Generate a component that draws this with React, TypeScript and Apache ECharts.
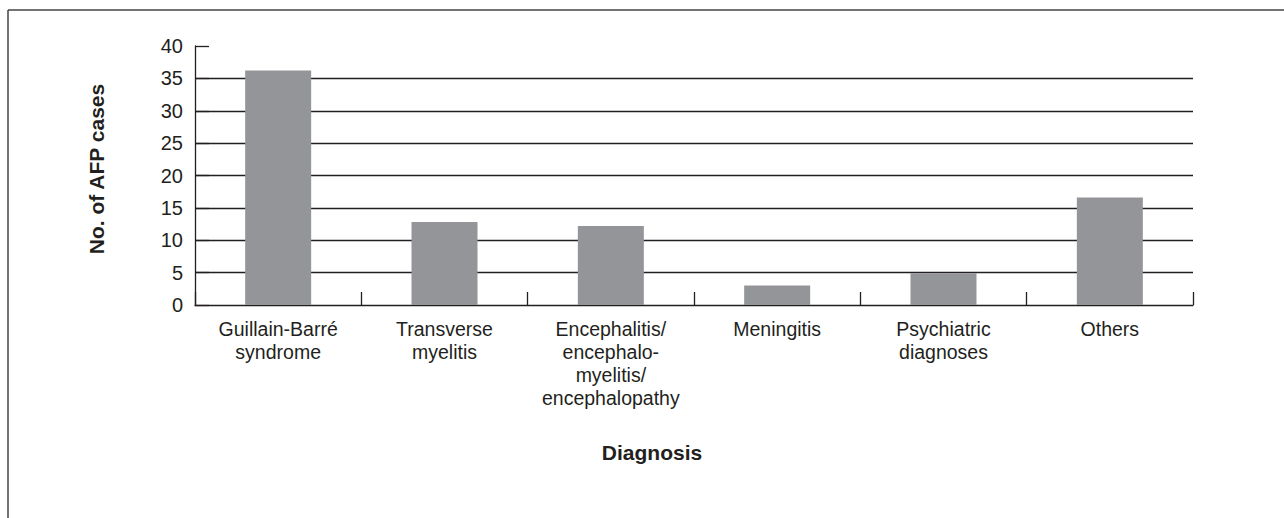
import React, { useEffect, useRef } from "react";
import * as echarts from "echarts";

const categories = [
  "Guillain-Barré\nsyndrome",
  "Transverse\nmyelitis",
  "Encephalitis/\nencephalo-\nmyelitis/\nencephalopathy",
  "Meningitis",
  "Psychiatric\ndiagnoses",
  "Others",
];
const afpCases = [36.2, 12.8, 12.2, 3.0, 4.9, 16.6];
const yAxisTitle = "No. of AFP cases";
const xAxisTitle = "Diagnosis";

const FONT = "'Liberation Sans', Arial, Helvetica, sans-serif";
const INK = "#231f20";

export default function App() {
  const ref = useRef<HTMLDivElement>(null);
  useEffect(() => {
    if (!ref.current) return;
    const chart = echarts.init(ref.current, null, { renderer: "svg" });
    chart.setOption({
      animation: false,
      backgroundColor: "#ffffff",
      grid: { left: 195, right: 91, top: 46, bottom: 213, containLabel: false },
      xAxis: {
        type: "category",
        data: categories,
        boundaryGap: true,
        axisLine: { show: true, lineStyle: { color: INK, width: 1.3 } },
        axisTick: {
          show: true,
          inside: true,
          length: 13,
          alignWithLabel: false,
          interval: 0,
          lineStyle: { color: INK, width: 1.3 },
        },
        axisLabel: {
          interval: 0,
          margin: 12,
          color: INK,
          fontFamily: FONT,
          fontSize: 19.5,
          lineHeight: 23,
        },
        splitLine: { show: false },
      },
      yAxis: {
        type: "value",
        min: 0,
        max: 40,
        interval: 5,
        axisLine: { show: true, lineStyle: { color: INK, width: 1.3 } },
        axisTick: {
          show: true,
          inside: true,
          length: 14,
          lineStyle: { color: INK, width: 1.3 },
        },
        axisLabel: {
          margin: 12,
          color: INK,
          fontFamily: FONT,
          fontSize: 20,
        },
        splitLine: {
          show: true,
          showMaxLine: false,
          showMinLine: false,
          lineStyle: { color: INK, width: 1.3 },
        },
      },
      series: [
        {
          type: "bar",
          data: afpCases,
          barWidth: 66,
          itemStyle: { color: "#939598" },
        },
      ],
      graphic: [
        {
          type: "line",
          shape: { x1: 8, y1: 10, x2: 1284, y2: 10 },
          style: { stroke: "#444444", lineWidth: 1.5 },
        },
        {
          type: "line",
          shape: { x1: 8, y1: 10, x2: 8, y2: 518 },
          style: { stroke: "#444444", lineWidth: 1.5 },
        },
        {
          type: "text",
          x: 96,
          y: 169,
          rotation: Math.PI / 2,
          style: {
            text: yAxisTitle,
            fontFamily: FONT,
            fontSize: 21,
            fontWeight: "bold",
            fill: INK,
            align: "center",
            verticalAlign: "middle",
          },
        },
        {
          type: "text",
          x: 652,
          y: 452,
          style: {
            text: xAxisTitle,
            fontFamily: FONT,
            fontSize: 21,
            fontWeight: "bold",
            fill: INK,
            align: "center",
            verticalAlign: "middle",
          },
        },
      ],
    });
    return () => chart.dispose();
  }, []);
  return (
    <div
      ref={ref}
      style={{ position: "absolute", left: 0, top: 0, width: 1284, height: 518 }}
    />
  );
}
